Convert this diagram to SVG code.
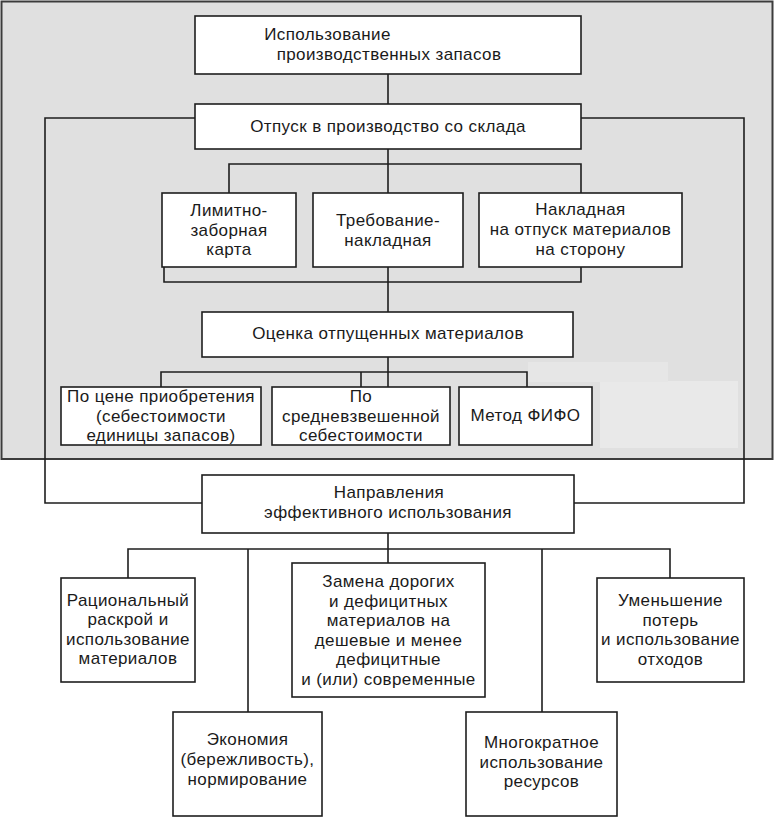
<svg xmlns="http://www.w3.org/2000/svg" width="775" height="817" viewBox="0 0 775 817">
<style>
.bg{fill:#e0e0e0;stroke:#3c3c3c;stroke-width:2}
.box{fill:#ffffff;stroke:#1e1e1e;stroke-width:1.6}
.ln{fill:none;stroke:#1e1e1e;stroke-width:1.6}
text{font-family:"Liberation Sans",Arial,sans-serif;font-size:17px;fill:#1a1a1a;text-anchor:middle;letter-spacing:0.4px}
</style>
<rect width="775" height="817" fill="#ffffff"/>
<rect class="bg" x="1.5" y="1.5" width="771" height="457.5"/>
<rect x="600" y="381" width="138" height="67" fill="#e9e9e9"/>
<rect x="528" y="362" width="140" height="20" fill="#e6e6e6"/>
<g id="connectors">
<path class="ln" d="M388,74V104"/>
<path class="ln" d="M195,118H45V503H202"/>
<path class="ln" d="M581,118H744V503H574"/>
<path class="ln" d="M388,149V193"/>
<path class="ln" d="M229,193V164H581V193"/>
<path class="ln" d="M388,267V312"/>
<path class="ln" d="M164,267V282H581V267"/>
<path class="ln" d="M388,357V387"/>
<path class="ln" d="M161,387V372H527V387"/>
<path class="ln" d="M361,372V387"/>
<path class="ln" d="M388,533V563"/>
<path class="ln" d="M128,578V549H670V578"/>
<path class="ln" d="M248,549V712"/>
<path class="ln" d="M542,549V712"/>
</g>
<g id="n_use">
<rect class="box" x="195" y="16" width="386" height="58"/>
<text x="327.5" y="40">Использование</text>
<text x="389" y="60">производственных запасов</text>
</g>
<g id="n_release">
<rect class="box" x="195" y="104" width="386" height="45"/>
<text x="388" y="132">Отпуск в производство со склада</text>
</g>
<g id="n_limit">
<rect class="box" x="162" y="193" width="134" height="74"/>
<text x="229" y="216">Лимитно-</text>
<text x="229" y="235.5">заборная</text>
<text x="229" y="255">карта</text>
</g>
<g id="n_req">
<rect class="box" x="313" y="193" width="150" height="74"/>
<text x="388" y="225.5">Требование-</text>
<text x="388" y="246">накладная</text>
</g>
<g id="n_invoice">
<rect class="box" x="479" y="193" width="203" height="74"/>
<text x="580.5" y="215">Накладная</text>
<text x="580.5" y="235">на отпуск материалов</text>
<text x="580.5" y="255">на сторону</text>
</g>
<g id="n_eval">
<rect class="box" x="202" y="312" width="371" height="45"/>
<text x="388" y="339">Оценка отпущенных материалов</text>
</g>
<g id="n_price">
<rect class="box" x="61" y="387" width="200" height="58"/>
<text x="161" y="402">По цене приобретения</text>
<text x="161" y="421.5">(себестоимости</text>
<text x="161" y="441">единицы запасов)</text>
</g>
<g id="n_avg">
<rect class="box" x="272" y="387" width="178" height="58"/>
<text x="361" y="402">По</text>
<text x="361" y="421.5">средневзвешенной</text>
<text x="361" y="441">себестоимости</text>
</g>
<g id="n_fifo">
<rect class="box" x="459" y="387" width="133" height="58"/>
<text x="525.5" y="421">Метод ФИФО</text>
</g>
<g id="n_dir">
<rect class="box" x="202" y="475" width="372" height="58"/>
<text x="389" y="498">Направления</text>
<text x="388" y="518">эффективного использования</text>
</g>
<g id="n_rational">
<rect class="box" x="61" y="578" width="134" height="104"/>
<text x="128" y="605.5">Рациональный</text>
<text x="128" y="625">раскрой и</text>
<text x="128" y="644.5">использование</text>
<text x="128" y="664">материалов</text>
</g>
<g id="n_replace">
<rect class="box" x="292" y="563" width="193" height="134"/>
<text x="388.5" y="587">Замена дорогих</text>
<text x="388.5" y="606.6">и дефицитных</text>
<text x="388.5" y="626.2">материалов на</text>
<text x="388.5" y="645.8">дешевые и менее</text>
<text x="388.5" y="665.4">дефицитные</text>
<text x="388.5" y="685">и (или) современные</text>
</g>
<g id="n_loss">
<rect class="box" x="597" y="578" width="147" height="104"/>
<text x="670.5" y="606">Уменьшение</text>
<text x="670.5" y="625.5">потерь</text>
<text x="670.5" y="645">и использование</text>
<text x="670.5" y="664.5">отходов</text>
</g>
<g id="n_economy">
<rect class="box" x="173" y="712" width="149" height="104"/>
<text x="247.5" y="745">Экономия</text>
<text x="247.5" y="765">(бережливость),</text>
<text x="247.5" y="785">нормирование</text>
</g>
<g id="n_reuse">
<rect class="box" x="466" y="712" width="151" height="104"/>
<text x="541.5" y="748">Многократное</text>
<text x="541.5" y="768">использование</text>
<text x="541.5" y="787">ресурсов</text>
</g>
</svg>
